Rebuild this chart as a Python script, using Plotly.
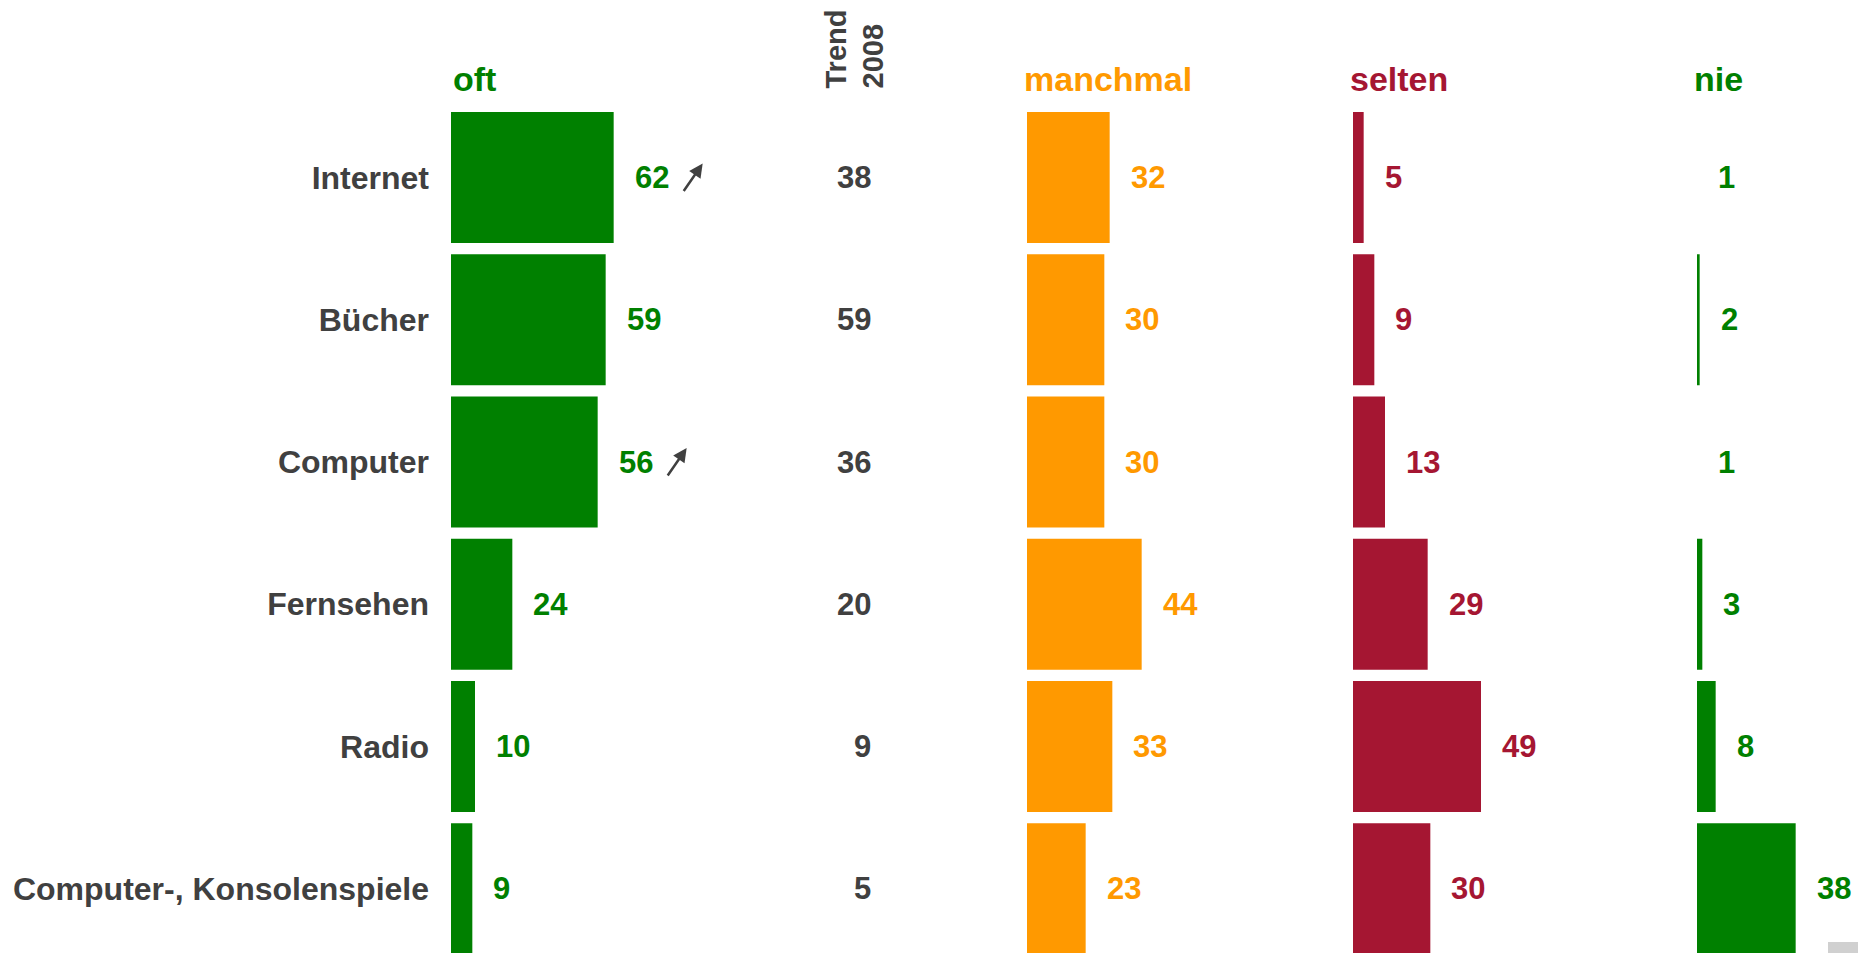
import plotly.graph_objects as go

# ---------------- data ----------------
categories = ["Internet", "Bücher", "Computer", "Fernsehen", "Radio", "Computer-, Konsolenspiele"]
oft = [62, 59, 56, 24, 10, 9]
trend_2008 = [38, 59, 36, 20, 9, 5]
manchmal = [32, 30, 30, 44, 33, 23]
selten = [5, 9, 13, 29, 49, 30]
nie = [1, 2, 1, 3, 8, 38]
trend_up = [True, False, True, False, False, False]

series_names = ["oft", "manchmal", "selten", "nie"]
series_values = [oft, manchmal, selten, nie]
trend_title = "Trend<br>2008"

# ---------------- style / layout ----------------
W, H = 1866, 953
OFF = 8  # page body margin: figure is drawn at (8, 8) on the page
TOP = 106 - OFF
PLOT_H = H - TOP
FONT = "Liberation Sans, Arial, Helvetica, sans-serif"
GRAY = "#404040"
colors = ["#008000", "#FF9900", "#A51632", "#008000"]
domains_page_px = [(451, 1000), (1027, 1345), (1353, 1690), (1697, 1866)]
header_shift = [0, -5, -5, -5]
PX_PER_UNIT = 8 / 3.0
AXIS_BASE = 1
ROW_PX = 142.25
FIRST_ROW_CENTER_PX = 177.5 - OFF


def fx(page_x):
    return (page_x - OFF) / W


def paper_y(page_y):
    return 1 + (TOP - (page_y - OFF)) / PLOT_H


fig = go.Figure()
layout_axes = {}
annotations = []

for i, (name, vals, col, (a, b)) in enumerate(zip(series_names, series_values, colors, domains_page_px)):
    n = "" if i == 0 else str(i + 1)
    xref = "x" + n
    fig.add_trace(go.Bar(
        x=vals, y=categories, orientation="h",
        marker=dict(color=col, line=dict(width=0)),
        xaxis=xref, yaxis="y", name=name, hoverinfo="skip", showlegend=False,
    ))
    layout_axes["xaxis" + n] = dict(
        domain=[fx(a), min(fx(b), 1)],
        range=[AXIS_BASE, AXIS_BASE + (b - a) / PX_PER_UNIT],
        visible=False, anchor="y", fixedrange=True,
    )
    for v, c in zip(vals, categories):
        annotations.append(dict(
            x=v, y=c, xref=xref, yref="y", text=str(v), showarrow=False,
            xanchor="left", yanchor="middle", xshift=19,
            font=dict(family=FONT, size=31, color=col, weight="bold"),
        ))
    annotations.append(dict(
        x=fx(a), y=paper_y(99.5), xref="paper", yref="paper", text=name,
        showarrow=False, xanchor="left", yanchor="bottom", xshift=header_shift[i],
        font=dict(family=FONT, size=34, color=col, weight="bold"),
    ))

# trend column
for v, c in zip(trend_2008, categories):
    annotations.append(dict(
        x=fx(873), y=c, xref="paper", yref="y", text=str(v), showarrow=False,
        xanchor="right", yanchor="middle",
        font=dict(family=FONT, size=31, color=GRAY, weight="bold"),
    ))
annotations.append(dict(
    x=fx(855), y=paper_y(91), xref="paper", yref="paper", text=trend_title,
    showarrow=False, xanchor="center", yanchor="bottom", textangle=-90, align="left",
    font=dict(family=FONT, size=29, color=GRAY, weight="bold"),
))

# trend arrows
for up, v, c in zip(trend_up, oft, categories):
    if up:
        annotations.append(dict(
            x=v, y=c, xref="x", yref="y", text="", showarrow=True,
            ax=-20, ay=29, xshift=89, yshift=14,
            arrowhead=2, arrowsize=1.1, arrowwidth=2.5, arrowcolor=GRAY, standoff=0,
        ))

top_units = -(FIRST_ROW_CENTER_PX - TOP) / ROW_PX
bottom_units = top_units + PLOT_H / ROW_PX

fig.update_layout(
    width=W, height=H,
    margin=dict(l=0, r=0, t=TOP, b=0, pad=0),
    paper_bgcolor="white", plot_bgcolor="white",
    barmode="overlay", bargap=1 - 131 / ROW_PX,
    showlegend=False,
    yaxis=dict(
        type="category", categoryorder="array", categoryarray=categories,
        range=[bottom_units, top_units], domain=[0, 1], anchor="x",
        showgrid=False, zeroline=False, showline=False, ticks="",
        ticklabelstandoff=21, fixedrange=True,
        tickfont=dict(family=FONT, size=32, color=GRAY, weight="bold"),
    ),
    annotations=annotations,
    shapes=[dict(type="rect", xref="paper", yref="paper",
                 x0=fx(1828), x1=1, y0=paper_y(953), y1=paper_y(942),
                 fillcolor="#d0d0d0", line=dict(width=0), layer="above")],
    **layout_axes,
)

fig.write_html("out.html", config={"displayModeBar": False})
